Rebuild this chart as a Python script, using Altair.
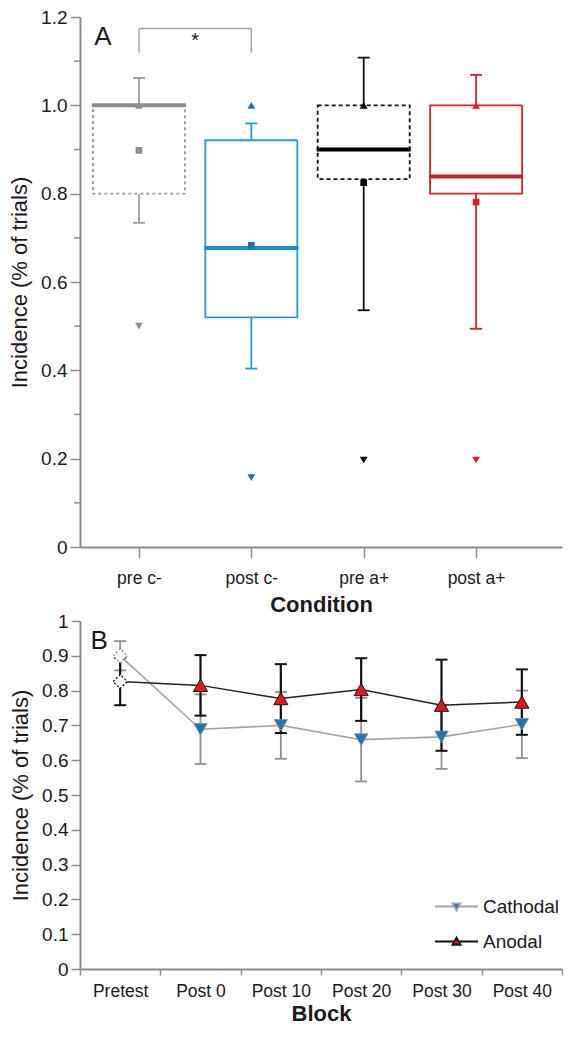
import altair as alt
import pandas as pd

FONT = "Liberation Sans"
TXT = "#1a1a1a"
AX = "#8c8c8c"

# ---------------- Panel A data ----------------
conditions = ["pre c-", "post c-", "pre a+", "post a+"]
cond_pos = [1, 2, 3, 4]
box_q1 = [0.800, 0.520, 0.833, 0.800]
box_q3 = [1.000, 0.921, 1.000, 1.000]
box_median = [1.000, 0.677, 0.900, 0.839]
whisker_low = [0.734, 0.404, 0.536, 0.494]
whisker_high = [1.062, 0.959, 1.108, 1.069]
mean_vals = [0.898, 0.683, 0.825, 0.781]
max_vals = [1.000, 1.000, 1.000, 1.000]
min_vals = [0.500, 0.157, 0.197, 0.197]
box_colors = ["#9b9b9b", "#1d9ce0", "#111111", "#d8222b"]
median_colors = ["#8f8f8f", "#1a90d8", "#000000", "#c0262e"]
marker_colors = ["#8f8f8f", "#1f70b3", "#000000", "#dc1f26"]
box_dashes = [[3, 3], [1, 0], [4, 3], [1, 0]]
y_ticks_a = [0, 0.2, 0.4, 0.6, 0.8, 1.0, 1.2]
y_minor_a = [0.1, 0.3, 0.5, 0.7, 0.9, 1.1]
sig_pair = [1, 2]
sig_top = 1.174
sig_bottom = 1.119

# ---------------- Panel B data ----------------
blocks = ["Pretest", "Post 0", "Post 10", "Post 20", "Post 30", "Post 40"]
series_names = ["Cathodal", "Anodal"]
cathodal_mean = [0.900, 0.689, 0.700, 0.659, 0.667, 0.703]
cathodal_err = [0.042, 0.100, 0.096, 0.120, 0.092, 0.097]
anodal_mean = [0.826, 0.815, 0.777, 0.803, 0.758, 0.767]
anodal_err = [0.068, 0.087, 0.099, 0.090, 0.131, 0.094]
y_ticks_b = [0, 0.1, 0.2, 0.3, 0.4, 0.5, 0.6, 0.7, 0.8, 0.9, 1.0]

# ---------------- Panel A ----------------
dfa = pd.DataFrame({
    "cond": conditions, "pos": cond_pos, "q1": box_q1, "q3": box_q3,
    "med": box_median, "wlo": whisker_low, "whi": whisker_high,
    "mean": mean_vals, "max": max_vals, "min": min_vals,
    "bc": box_colors, "mc": median_colors, "kc": marker_colors,
})

label_expr_a = " : ".join(
    [f"datum.value == {p} ? '{c}'" for p, c in zip(cond_pos, conditions)]) + " : ''"

x_axis_a = alt.Axis(values=cond_pos, labelExpr=label_expr_a, title="Condition",
                    grid=False, tickSize=11, tickColor=AX, tickWidth=1.5,
                    domainColor=AX, domainWidth=2, labelFont=FONT, labelFontSize=17.5,
                    labelColor=TXT, labelPadding=11, titleFont=FONT, titleFontSize=22,
                    titleFontWeight="bold", titleColor=TXT, titlePadding=8)
y_axis_a = alt.Axis(values=y_ticks_a,
                    labelExpr="datum.value == 0 ? '0' : format(datum.value, '.1f')",
                    title="Incidence (% of trials)", grid=False, tickSize=10,
                    tickColor=AX, tickWidth=1.5, domainColor=AX, domainWidth=2,
                    labelFont=FONT, labelFontSize=19, labelColor=TXT, labelPadding=3,
                    titleFont=FONT, titleFontSize=22, titleFontWeight="normal",
                    titleColor=TXT, titlePadding=9)
xs_a = alt.Scale(domain=[0.52, 4.72], nice=False, zero=False)
ys_a = alt.Scale(domain=[0, 1.2], nice=False, zero=False)


def xa(field):
    return alt.X(f"{field}:Q", scale=xs_a, axis=x_axis_a)


def ya(field):
    return alt.Y(f"{field}:Q", scale=ys_a, axis=y_axis_a)


base_a = alt.Chart(dfa)

whisk_up = base_a.mark_rule(strokeWidth=1.8).encode(
    x=xa("pos"), y=ya("q3"), y2="whi", color=alt.Color("bc:N", scale=None))
whisk_dn = base_a.mark_rule(strokeWidth=1.8).encode(
    x=xa("pos"), y=ya("wlo"), y2="q1", color=alt.Color("bc:N", scale=None))
cap_hi = base_a.mark_tick(orient="horizontal", size=12, thickness=1.8, opacity=1).encode(
    x=xa("pos"), y=ya("whi"), color=alt.Color("bc:N", scale=None))
cap_lo = base_a.mark_tick(orient="horizontal", size=12, thickness=1.8, opacity=1).encode(
    x=xa("pos"), y=ya("wlo"), color=alt.Color("bc:N", scale=None))
boxes = base_a.mark_bar(size=92, orient="vertical", fill="white", strokeWidth=1.8).encode(
    x=xa("pos"), y=ya("q1"), y2="q3",
    stroke=alt.Stroke("bc:N", scale=None),
    strokeDash=alt.StrokeDash("cond:N", scale=alt.Scale(domain=conditions, range=box_dashes),
                              legend=None))
medians = base_a.mark_tick(orient="horizontal", size=94, thickness=4, opacity=1).encode(
    x=xa("pos"), y=ya("med"), color=alt.Color("mc:N", scale=None))
means = base_a.mark_point(shape="square", filled=True, size=45, opacity=1).encode(
    x=xa("pos"), y=ya("mean"), color=alt.Color("kc:N", scale=None))
maxs = base_a.mark_point(shape="triangle-up", filled=True, size=60, opacity=1).encode(
    x=xa("pos"), y=ya("max"), color=alt.Color("kc:N", scale=None))
mins = base_a.mark_point(shape="triangle-down", filled=True, size=60, opacity=1).encode(
    x=xa("pos"), y=ya("min"), color=alt.Color("kc:N", scale=None))

minor_a = alt.Chart(pd.DataFrame({"v": y_minor_a})).mark_rule(
    color=AX, strokeWidth=1.5).encode(
    y=ya("v"), x=alt.value(0), x2=alt.value(-6))

sig_h = alt.Chart(pd.DataFrame({"a": [sig_pair[0]], "b": [sig_pair[1]], "y": [sig_top]})).mark_rule(
    color="#a8a8a8", strokeWidth=1.5).encode(x=xa("a"), x2="b", y=ya("y"))
sig_v = alt.Chart(pd.DataFrame({"p": sig_pair, "lo": [sig_bottom] * 2, "hi": [sig_top] * 2})).mark_rule(
    color="#a8a8a8", strokeWidth=1.5).encode(x=xa("p"), y=ya("lo"), y2="hi")
star = alt.Chart(pd.DataFrame({"p": [sum(sig_pair) / 2], "y": [1.145]})).mark_text(
    text="*", font=FONT, fontSize=20, color=TXT, baseline="middle").encode(x=xa("p"), y=ya("y"))
label_a = alt.Chart(pd.DataFrame({"p": [0.68], "y": [1.155]})).mark_text(
    text="A", font=FONT, fontSize=26, color=TXT, baseline="middle").encode(x=xa("p"), y=ya("y"))

chart_a = alt.layer(minor_a, sig_h, sig_v, star, label_a, whisk_up, whisk_dn, cap_hi, cap_lo,
                    boxes, medians, means, maxs, mins).properties(width=482, height=530)

# ---------------- Panel B ----------------
dfb = pd.DataFrame({"block": blocks, "c_m": cathodal_mean, "c_e": cathodal_err,
                    "a_m": anodal_mean, "a_e": anodal_err})
dfb["c_lo"] = dfb["c_m"] - dfb["c_e"]
dfb["c_hi"] = dfb["c_m"] + dfb["c_e"]
dfb["a_lo"] = dfb["a_m"] - dfb["a_e"]
dfb["a_hi"] = dfb["a_m"] + dfb["a_e"]
dfb["pre"] = dfb["block"] == blocks[0]

x_axis_b = alt.Axis(title="Block", tickBand="extent", labelAngle=0, grid=False, tickSize=6,
                    tickColor=AX, tickWidth=1.5, domainColor=AX, domainWidth=2,
                    labelFont=FONT, labelFontSize=17.5, labelColor=TXT, labelPadding=7,
                    titleFont=FONT, titleFontSize=22, titleFontWeight="bold",
                    titleColor=TXT, titlePadding=4)
y_axis_b = alt.Axis(values=y_ticks_b,
                    labelExpr="datum.value == 0 ? '0' : datum.value == 1 ? '1' : format(datum.value, '.1f')",
                    title="Incidence (% of trials)", grid=False, tickSize=9,
                    tickColor=AX, tickWidth=1.5, domainColor=AX, domainWidth=2,
                    labelFont=FONT, labelFontSize=19, labelColor=TXT, labelPadding=3,
                    titleFont=FONT, titleFontSize=22, titleFontWeight="normal",
                    titleColor=TXT, titlePadding=9)
xs_b = alt.Scale(domain=blocks, paddingInner=0, paddingOuter=0)
ys_b = alt.Scale(domain=[0, 1], nice=False, zero=False)


def xb():
    return alt.X("block:N", sort=blocks, scale=xs_b, axis=x_axis_b)


def yb(field):
    return alt.Y(f"{field}:Q", scale=ys_b, axis=y_axis_b)


base_b = alt.Chart(dfb)
CG = "#8f8f8f"
CL = "#a3a3a3"
AK = "#111111"

c_err = base_b.mark_rule(color=CG, strokeWidth=1.8).encode(x=xb(), y=yb("c_lo"), y2="c_hi")
c_cap1 = base_b.mark_tick(orient="horizontal", size=12, thickness=1.8, color=CG, opacity=1).encode(
    x=xb(), y=yb("c_lo"))
c_cap2 = base_b.mark_tick(orient="horizontal", size=12, thickness=1.8, color=CG, opacity=1).encode(
    x=xb(), y=yb("c_hi"))
c_line = base_b.mark_line(color=CL, strokeWidth=1.6).encode(x=xb(), y=yb("c_m"))
a_err = base_b.mark_rule(color=AK, strokeWidth=2.2).encode(x=xb(), y=yb("a_lo"), y2="a_hi")
a_cap1 = base_b.mark_tick(orient="horizontal", size=12, thickness=2, color=AK, opacity=1).encode(
    x=xb(), y=yb("a_lo"))
a_cap2 = base_b.mark_tick(orient="horizontal", size=12, thickness=2, color=AK, opacity=1).encode(
    x=xb(), y=yb("a_hi"))
a_line = base_b.mark_line(color="#222222", strokeWidth=1.5).encode(x=xb(), y=yb("a_m"))

pre_c = base_b.transform_filter("datum.pre").mark_point(
    shape="diamond", size=196, filled=True, fill="white", stroke=CG, strokeWidth=1.3,
    strokeDash=[2, 2], opacity=1).encode(x=xb(), y=yb("c_m"))
pre_a = base_b.transform_filter("datum.pre").mark_point(
    shape="diamond", size=196, filled=True, fill="white", stroke=AK, strokeWidth=1.3,
    strokeDash=[2, 2], opacity=1).encode(x=xb(), y=yb("a_m"))
tri_c = base_b.transform_filter("!datum.pre").mark_point(
    shape="triangle-down", size=180, filled=True, fill="#1f74b5", stroke="#8a8a8a",
    strokeWidth=0.8, opacity=1).encode(x=xb(), y=yb("c_m"))
tri_a = base_b.transform_filter("!datum.pre").mark_point(
    shape="triangle-up", size=200, filled=True, fill="#e8141c", stroke=AK,
    strokeWidth=1, opacity=1).encode(x=xb(), y=yb("a_m"))

path_down = "M-1,0H-0.12M0.12,0H1M-0.19,-0.15L0.19,-0.15L0,0.18Z"
path_up = "M-1,0H-0.12M0.12,0H1M-0.19,0.15L0.19,0.15L0,-0.18Z"
leg = alt.Legend(title=None, orient="none", legendX=354, legendY=268, padding=0,
                 labelFont=FONT, labelFontSize=19, labelColor=TXT, labelOffset=4,
                 symbolSize=1849, symbolStrokeWidth=1.8, clipHeight=35, rowPadding=0)
legend_layer = alt.Chart(pd.DataFrame({"series": series_names})).transform_filter(
    "false").mark_point(filled=True, strokeWidth=1.8, opacity=1).encode(
    shape=alt.Shape("series:N", scale=alt.Scale(domain=series_names, range=[path_down, path_up]),
                    legend=leg),
    fill=alt.Fill("series:N", scale=alt.Scale(domain=series_names, range=["#1f74b5", "#e8141c"]),
                  legend=leg),
    stroke=alt.Stroke("series:N", scale=alt.Scale(domain=series_names, range=[CL, AK]),
                      legend=leg),
)

label_b = alt.Chart(pd.DataFrame({"block": [blocks[0]], "y": [0.943]})).mark_text(
    text="B", font=FONT, fontSize=26, color=TXT, baseline="middle", dx=-21).encode(
    x=xb(), y=yb("y"))

chart_b = alt.layer(label_b, c_err, c_cap1, c_cap2, c_line, a_err, a_cap1, a_cap2, a_line,
                    pre_c, pre_a, tri_c, tri_a, legend_layer).properties(width=482, height=348)

chart = alt.vconcat(chart_a, chart_b, spacing=74, bounds="flush").resolve_scale(
    shape="independent", fill="independent", stroke="independent",
    color="independent", strokeDash="independent"
).resolve_legend(
    shape="independent", fill="independent", stroke="independent"
).properties(
    padding={"left": 0, "top": 0, "right": 0, "bottom": 0}
).configure_view(strokeWidth=0)

chart.save("out.html", embed_options={"renderer": "svg", "actions": False})
